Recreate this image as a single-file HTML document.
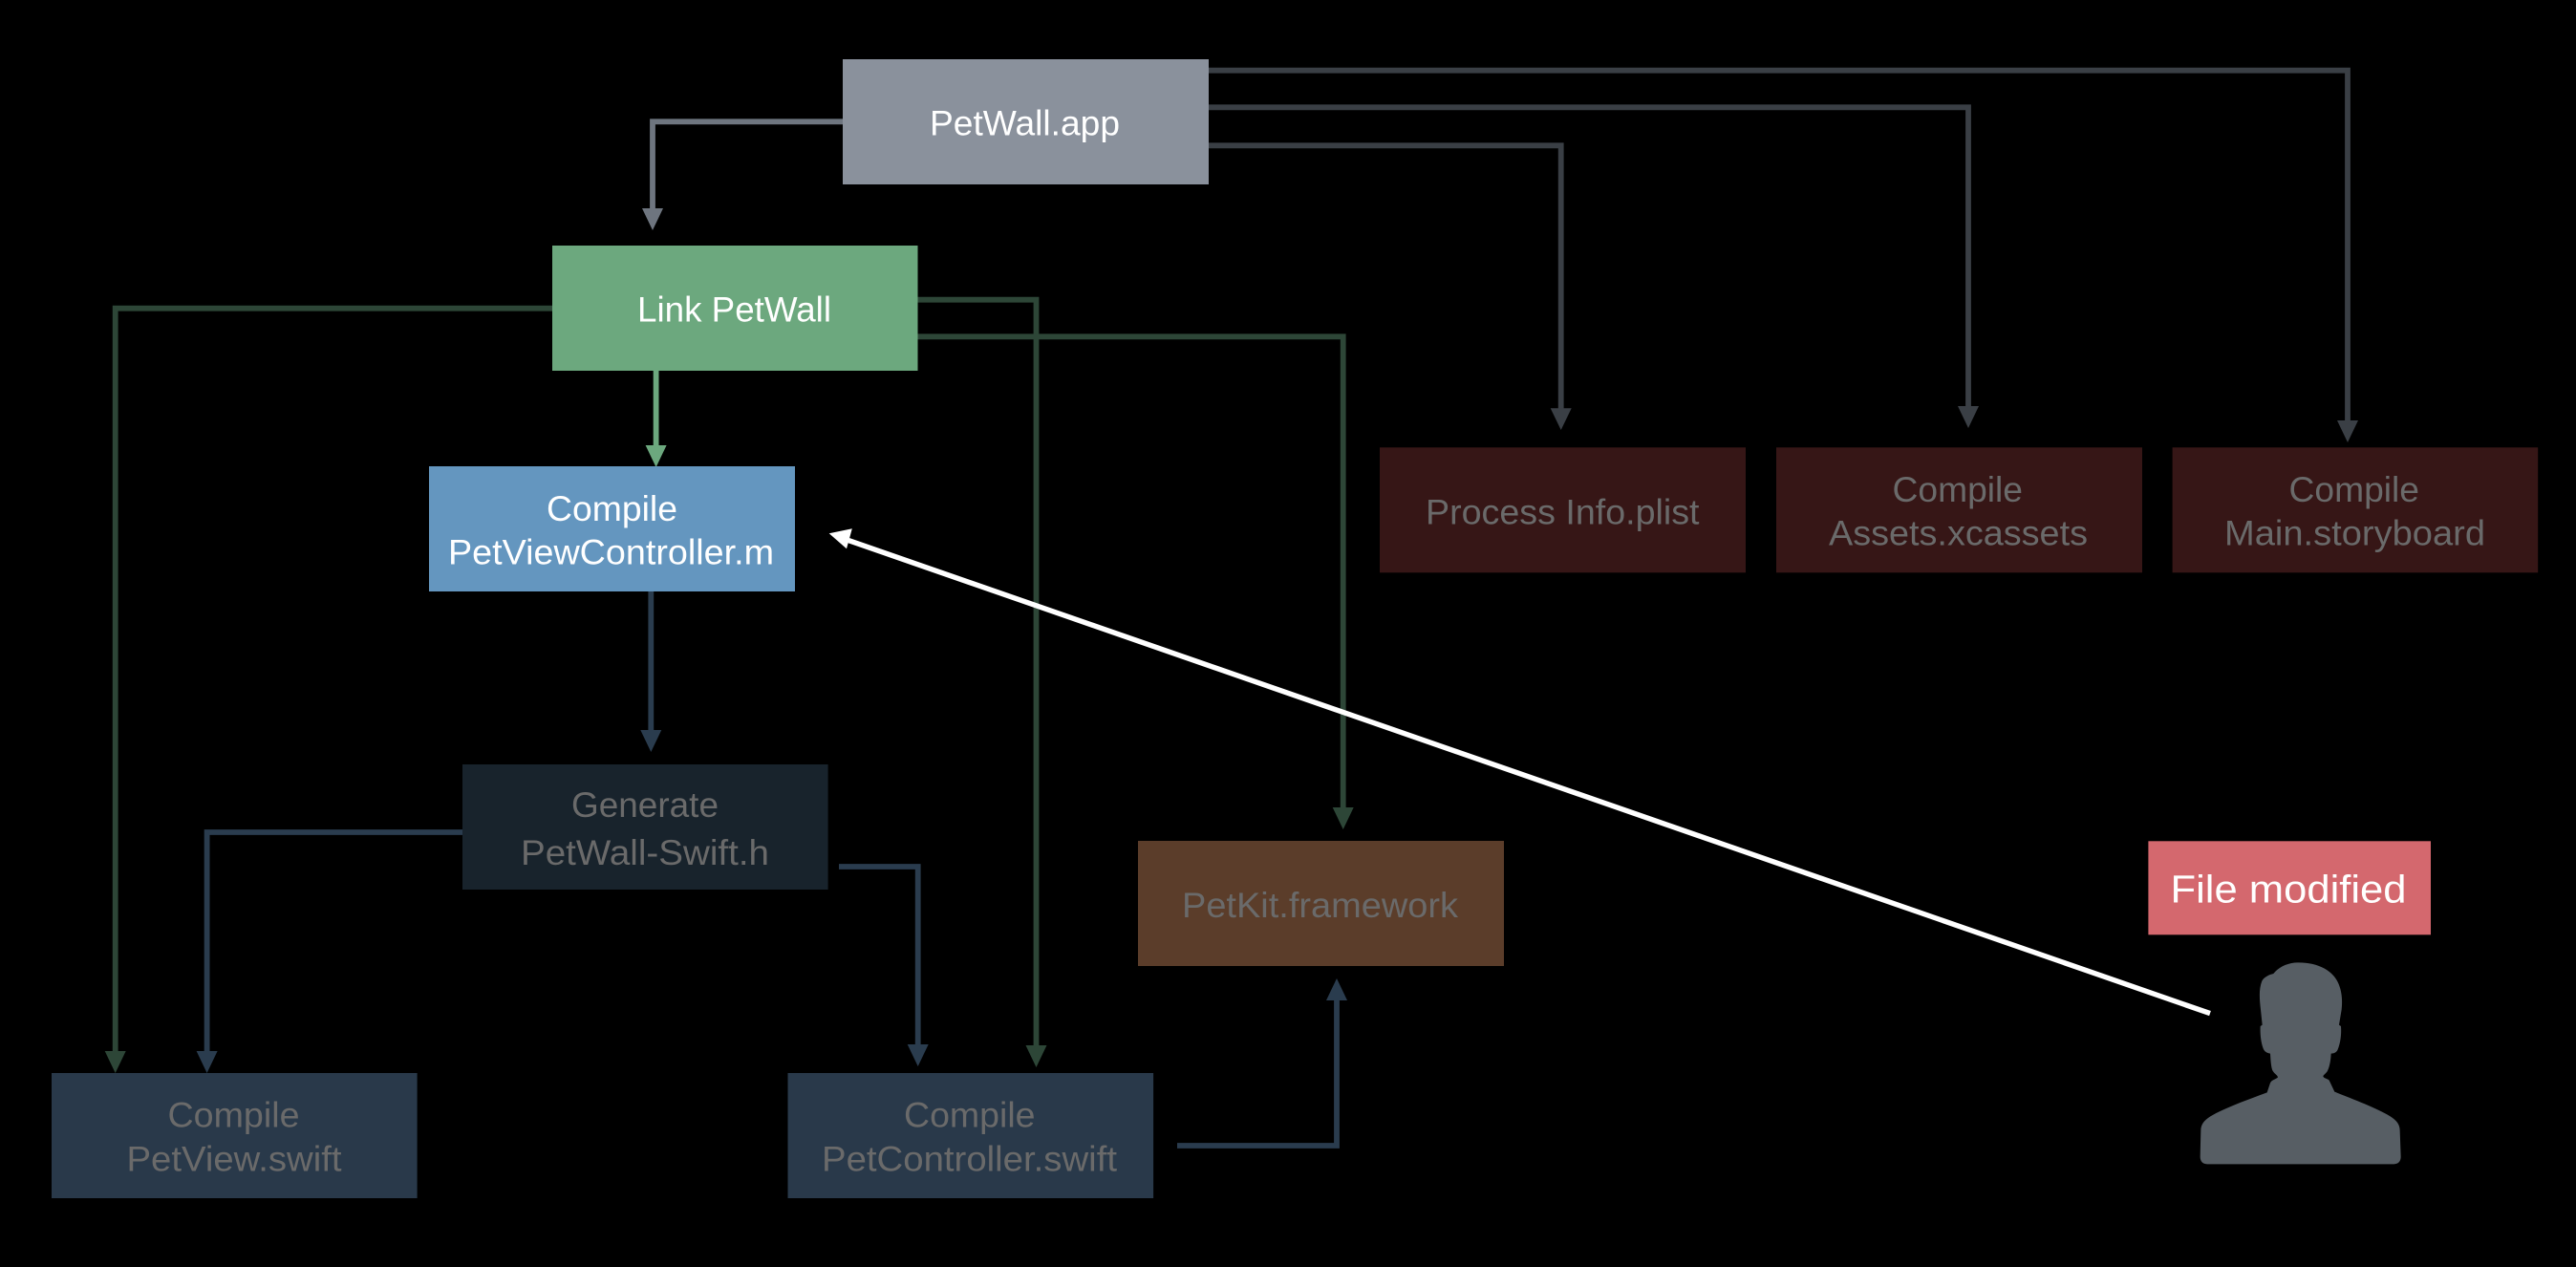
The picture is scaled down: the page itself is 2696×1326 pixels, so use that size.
<!DOCTYPE html>
<html lang="en">
<head>
<meta charset="utf-8">
<title>PetWall build graph</title>
<style>
html,body{margin:0;padding:0;background:#000;width:2696px;height:1326px;overflow:hidden}
svg{display:block}
text{font-family:"Liberation Sans",sans-serif;font-size:37px}
.w{fill:#fff}
.d{fill:#6a6a6a}
.l{fill:none;stroke-width:5.8}
</style>
</head>
<body>
<svg width="2696" height="1326" viewBox="0 0 2696 1326" xmlns="http://www.w3.org/2000/svg">
<rect width="2696" height="1326" fill="#000"/>

<!-- PetWall.app to resources (dim grey) -->
<g stroke="#3a3f45" class="l">
<path class="l" d="M1265 73.7H2457V442"/>
<path class="l" d="M1265 112.3H2060V428"/>
<path class="l" d="M1265 152.3H1633.7V430"/>
</g>
<g fill="#3a3f45">
<path d="M2446 440H2468L2457 463Z"/>
<path d="M2049 425H2071L2060 448Z"/>
<path d="M1622.7 427.3H1644.7L1633.7 450Z"/>
</g>

<!-- PetWall.app to Link -->
<path class="l" stroke="#6e757f" d="M882 127.3H683V220"/>
<path fill="#6e757f" d="M672 218H694L683 241Z"/>

<!-- Link to dependencies (dim green) -->
<g stroke="#2d4637" class="l">
<path class="l" d="M578 322.7H120.7V1102"/>
<path class="l" d="M960 313.7H1084.5V1096"/>
<path class="l" d="M960 352.3H1405.7V847"/>
</g>
<g fill="#2d4637">
<path d="M109.7 1100H131.7L120.7 1123Z"/>
<path d="M1073.5 1094H1095.5L1084.5 1117Z"/>
<path d="M1394.7 845H1416.7L1405.7 868Z"/>
</g>

<!-- Link to Compile PetViewController.m -->
<path class="l" stroke="#6ca87e" d="M686.6 387V468"/>
<path fill="#6ca87e" d="M675.6 466H697.6L686.6 489Z"/>

<!-- Dim blue connectors -->
<g stroke="#2a3c4e" class="l">
<path class="l" d="M681.3 619V766"/>
<path class="l" d="M484 871H216.6V1102"/>
<path class="l" d="M878 907H960.7V1095"/>
<path class="l" d="M1232 1199H1399V1045"/>
</g>
<g fill="#2a3c4e">
<path d="M670.3 764H692.3L681.3 787Z"/>
<path d="M205.6 1100H227.6L216.6 1123Z"/>
<path d="M949.7 1093H971.7L960.7 1116Z"/>
<path d="M1388 1047H1410L1399 1024Z"/>
</g>

<!-- Boxes -->
<rect x="882" y="62" width="383" height="131" fill="#8a919c"/>
<rect x="578" y="257" width="382.5" height="131" fill="#6ca87e"/>
<rect x="449" y="488" width="383" height="131" fill="#6496bf"/>
<rect x="484" y="800" width="382.6" height="131" fill="#18232c"/>
<rect x="54" y="1123" width="382.6" height="131" fill="#29394a"/>
<rect x="824.5" y="1123" width="382.6" height="131" fill="#29394a"/>
<rect x="1191" y="880" width="383" height="131" fill="#5b3d2a"/>
<rect x="1444" y="468.3" width="383" height="131" fill="#361616"/>
<rect x="1859" y="468.3" width="383" height="131" fill="#361616"/>
<rect x="2273.6" y="468.3" width="382.6" height="131" fill="#361616"/>
<rect x="2248.4" y="880.3" width="295.6" height="98" fill="#d4686e"/>

<!-- Labels -->
<text class="w" x="973" y="141.7" textLength="199" lengthAdjust="spacingAndGlyphs">PetWall.app</text>
<text class="w" x="667" y="336.7" textLength="203" lengthAdjust="spacingAndGlyphs">Link PetWall</text>
<text class="w" x="572" y="545" textLength="137" lengthAdjust="spacingAndGlyphs">Compile</text>
<text class="w" x="469" y="590.7" textLength="341" lengthAdjust="spacingAndGlyphs">PetViewController.m</text>
<text class="d" x="598" y="855" textLength="154" lengthAdjust="spacingAndGlyphs">Generate</text>
<text class="d" x="545" y="905" textLength="260" lengthAdjust="spacingAndGlyphs">PetWall-Swift.h</text>
<text class="d" x="175.5" y="1179.3" textLength="138" lengthAdjust="spacingAndGlyphs">Compile</text>
<text class="d" x="132.5" y="1225.7" textLength="225" lengthAdjust="spacingAndGlyphs">PetView.swift</text>
<text class="d" x="946" y="1179.3" textLength="137.5" lengthAdjust="spacingAndGlyphs">Compile</text>
<text class="d" x="860" y="1225.7" textLength="309" lengthAdjust="spacingAndGlyphs">PetController.swift</text>
<text class="d" x="1237" y="960" textLength="289" lengthAdjust="spacingAndGlyphs">PetKit.framework</text>
<text class="d" x="1492" y="548.3" textLength="286.5" lengthAdjust="spacingAndGlyphs">Process Info.plist</text>
<text class="d" x="1980.5" y="525" textLength="136.5" lengthAdjust="spacingAndGlyphs">Compile</text>
<text class="d" x="1914" y="570.7" textLength="271" lengthAdjust="spacingAndGlyphs">Assets.xcassets</text>
<text class="d" x="2395.5" y="525" textLength="136.5" lengthAdjust="spacingAndGlyphs">Compile</text>
<text class="d" x="2328" y="570.7" textLength="273" lengthAdjust="spacingAndGlyphs">Main.storyboard</text>
<text class="w" style="font-size:41px" x="2271.5" y="944.5" textLength="247" lengthAdjust="spacingAndGlyphs">File modified</text>

<!-- White arrow -->
<path fill="none" stroke="#fff" stroke-width="5.4" d="M2313 1060.6L885 564.5"/>
<path fill="#fff" d="M867.7 558.3L891.8 553.3L886 574.3Z"/>

<!-- Person silhouette -->
<g transform="translate(2290 1000) scale(.33333)">
<path fill="#575e64" d="M345 22C405 22 455 45 473 90C483 115 485 140 482 170L474 218L480 222C482 250 478 275 470 295C466 305 458 307 449 308C448 325 446 345 438 362C434 370 426 374 424 379C426 386 438 386 443 392L460 428C520 452 590 478 635 505C655 518 665 530 665 550L668 632C668 646 660 655 646 655L60 655C46 655 38 646 38 632L40 550C40 530 50 518 70 505C115 478 190 452 248 430L258 400C262 390 278 388 282 382C280 374 268 370 264 358C260 345 259 325 258 308C248 306 240 302 236 292C228 270 226 245 227 222L233 218L228 170C224 135 222 105 232 80C238 68 255 60 268 57C285 35 315 22 345 22Z"/>
</g>
</svg>
</body>
</html>
